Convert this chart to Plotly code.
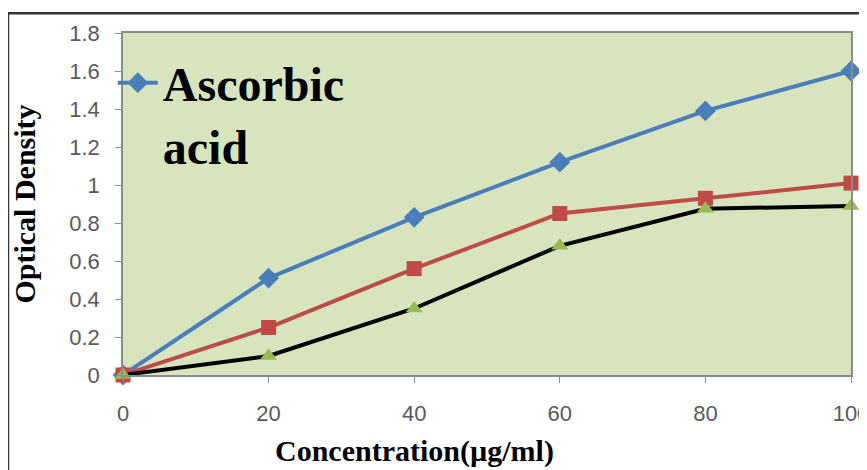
import plotly.graph_objects as go

concentration = [0, 20, 40, 60, 80, 100]
ascorbic_acid = [0, 0.51, 0.83, 1.12, 1.39, 1.60]
series_red = [0, 0.25, 0.56, 0.85, 0.93, 1.01]
series_black = [0, 0.10, 0.35, 0.68, 0.875, 0.89]

y_ticks = [0, 0.2, 0.4, 0.6, 0.8, 1, 1.2, 1.4, 1.6, 1.8]
y_tick_labels = ["0", "0.2", "0.4", "0.6", "0.8", "1", "1.2", "1.4", "1.6", "1.8"]
x_ticks = [0, 20, 40, 60, 80, 100]

fig = go.Figure()
fig.add_trace(go.Scatter(
    x=concentration, y=ascorbic_acid, name="Ascorbic<br>acid",
    mode="lines+markers", cliponaxis=False,
    line=dict(color="#4a7ebb", width=4),
    marker=dict(symbol="diamond", size=16, color="#4a7ebb"),
))
fig.add_trace(go.Scatter(
    x=concentration, y=series_red, name="Series 2", showlegend=False,
    mode="lines+markers", cliponaxis=False,
    line=dict(color="#be4b48", width=4),
    marker=dict(symbol="square", size=15, color="#be4b48"),
))
fig.add_trace(go.Scatter(
    x=concentration, y=series_black, name="Series 3", showlegend=False,
    mode="lines+markers", cliponaxis=False,
    line=dict(color="#000000", width=4),
    marker=dict(symbol="triangle-up", size=15, color="#98b954"),
))

fig.add_shape(type="rect", xref="paper", yref="paper",
              x0=-0.158, x1=1.2, y0=-0.5, y1=1.058,
              line=dict(color="#333333", width=2.5), layer="below")

fig.add_annotation(
    text="<b>Concentration(µg/ml)</b>", xref="paper", yref="paper",
    x=0.401, y=-0.222, xanchor="center", yanchor="middle", showarrow=False,
    font=dict(family="Liberation Serif", size=30, color="#000000"),
)

fig.update_layout(
    width=867, height=470,
    margin=dict(l=115, r=24, t=25, b=103, autoexpand=False),
    paper_bgcolor="white",
    plot_bgcolor="#d7e4bd",
    font=dict(family="Liberation Sans", color="#595959", size=22),
    legend=dict(
        x=-0.014, y=0.965, xanchor="left", yanchor="top",
        bgcolor="rgba(0,0,0,0)",
        font=dict(family="Liberation Serif", size=48, color="#000000", weight="bold"),
        itemwidth=40, tracegroupgap=0, valign="top",
    ),
    xaxis=dict(
        range=[0, 100], tickvals=x_ticks, ticks="outside", ticklen=6,
        tickcolor="#8c8c8c", showgrid=False, zeroline=False,
        showline=True, linecolor="#8c8c8c", linewidth=1.5, mirror=True,
        ticklabelstandoff=12,
        tickfont=dict(family="Liberation Sans", size=22, color="#595959"),
    ),
    yaxis=dict(
        range=[0, 1.8], tickvals=y_ticks, ticktext=y_tick_labels,
        ticks="outside", ticklen=6, tickcolor="#8c8c8c",
        showgrid=False, zeroline=False,
        showline=True, linecolor="#8c8c8c", linewidth=1.5, mirror=True,
        ticklabelstandoff=11,
        tickfont=dict(family="Liberation Sans", size=22, color="#595959"),
        title=dict(text="<b>Optical Density</b>", standoff=35,
                   font=dict(family="Liberation Serif", size=30, color="#000000")),
    ),
)

fig.write_html("out.html")
